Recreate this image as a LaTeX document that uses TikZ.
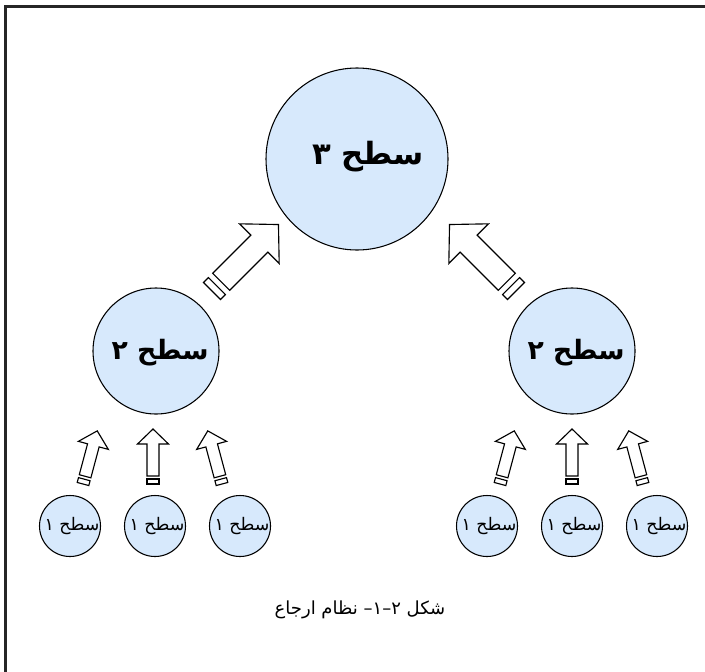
\documentclass[tikz,border=0pt]{standalone}
\usepackage{fontspec}
\newfontfamily\arabicfont[Script=Arabic]{DejaVu Sans}
\TeXXeTstate=1
\usetikzlibrary{calc}
\definecolor{circfill}{RGB}{215,233,252}
\tikzset{
  lvl/.style={circle, draw=black, line width=0.8pt, fill=circfill, inner sep=0pt},
  bigcirc/.style={lvl, minimum size=136.5pt},
  midcirc/.style={lvl, minimum size=94.5pt},
  smallcirc/.style={lvl, minimum size=45.75pt},
  bigtxt/.style={font=\arabicfont\bfseries\fontsize{23}{27}\selectfont, inner sep=0pt},
  midtxt/.style={font=\arabicfont\bfseries\fontsize{20}{24}\selectfont, inner sep=0pt},
  smalltxt/.style={font=\arabicfont\fontsize{13}{15}\selectfont, inner sep=0pt},
  captxt/.style={font=\arabicfont\fontsize{13.5}{16}\selectfont, inner sep=0pt},
  arrowline/.style={draw=black, line width=0.85pt, fill=white, line join=miter},
  framel/.style={draw=black!85, line width=1.6pt},
}
% #1 tail coordinate, #2 angle, #3 bar thickness, #4 gap, #5 shaft width,
% #6 shaft length, #7 head width, #8 head length
\newcommand{\blockarr}[8]{%
  \begin{scope}[shift={(#1)}, rotate=#2]
    \path[arrowline] (0,{-#5/2}) -- (#3,{-#5/2}) -- (#3,{#5/2}) -- (0,{#5/2}) -- cycle;
    \path[arrowline] ({#3+#4},{-#5/2}) -- ({#3+#4+#6},{-#5/2}) -- ({#3+#4+#6},{-#7/2})
      -- ({#3+#4+#6+#8},0) -- ({#3+#4+#6},{#7/2}) -- ({#3+#4+#6},{#5/2})
      -- ({#3+#4},{#5/2}) -- cycle;
  \end{scope}}

\begin{document}
\begin{tikzpicture}[x=0.75pt,y=-0.75pt]
\useasboundingbox (0,0) rectangle (705,671);
% frame (cut at right and bottom)
\coordinate (fbl) at (5.5,690);
\coordinate (ftl) at (5.5,6.5);
\coordinate (ftr) at (725,6.5);
\draw[framel] (fbl) -- (ftl) -- (ftr);

% circles
\node[bigcirc] (top) at (357,159) {};
\node[bigtxt] (toptxt) at (368,157) {\beginR سطح ۳\endR};

\node[midcirc] (ml) at (156,351) {};
\node[midtxt] (mltxt) at (160,353) {\beginR سطح ۲\endR};
\node[midcirc] (mr) at (572,351) {};
\node[midtxt] (mrtxt) at (576,353) {\beginR سطح ۲\endR};

\node[smallcirc] (l1) at (70,526) {};
\node[smallcirc] (l2) at (155,526) {};
\node[smallcirc] (l3) at (240,526) {};
\node[smallcirc] (r1) at (487,526) {};
\node[smallcirc] (r2) at (572,526) {};
\node[smallcirc] (r3) at (657,526) {};
\foreach \c in {l1,l2,l3,r1,r2,r3}{
  \node[smalltxt] at ($(\c)+(2,0)$) {\beginR سطح ۱\endR};
}

% block arrows
\coordinate (bl) at (212,291);
\coordinate (br) at (516,291);
\blockarr{bl}{45}{7}{6}{24}{54}{56}{27}
\blockarr{br}{135}{7}{6}{24}{54}{56}{27}

\coordinate (al1) at (83,484);
\coordinate (al2) at (153,484);
\coordinate (al3) at (222,484);
\coordinate (ar1) at (500,484);
\coordinate (ar2) at (572,484);
\coordinate (ar3) at (643,484);
\blockarr{al1}{75}{5}{3}{12}{32}{31}{15}
\blockarr{al2}{90}{5}{3}{12}{32}{31}{15}
\blockarr{al3}{105}{5}{3}{12}{32}{31}{15}
\blockarr{ar1}{75}{5}{3}{12}{32}{31}{15}
\blockarr{ar2}{90}{5}{3}{12}{32}{31}{15}
\blockarr{ar3}{105}{5}{3}{12}{32}{31}{15}

% caption
\node[captxt] (cap) at (360,610) {\beginR شکل ۲–۱– نظام ارجاع\endR};
\end{tikzpicture}
\end{document}
